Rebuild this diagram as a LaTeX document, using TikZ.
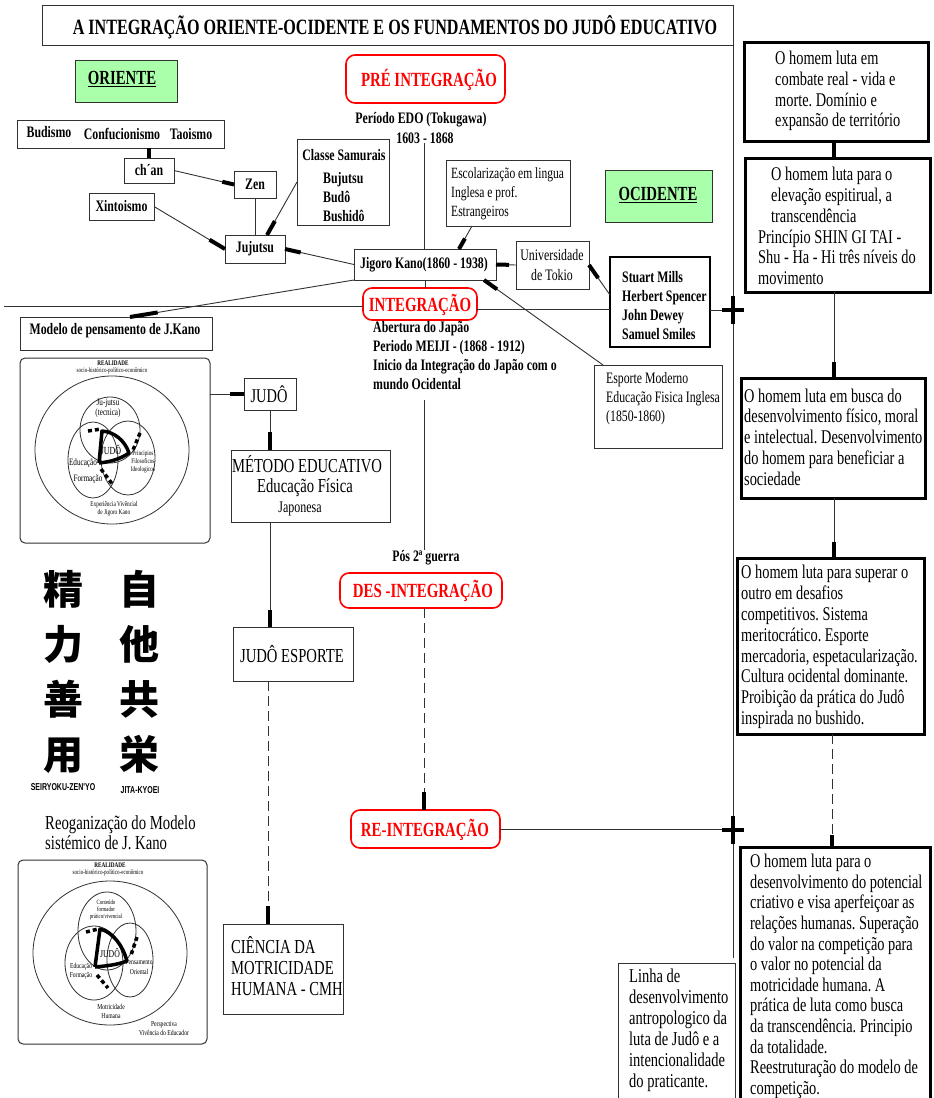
\documentclass[tikz,border=0pt]{standalone}
\usepackage{fontspec}
\setmainfont{Liberation Serif}[FakeStretch=0.74]
\newfontfamily\capsans{Liberation Sans}[FakeStretch=0.7]
\newfontfamily\cjk{Noto Sans CJK JP}
\usetikzlibrary{calc,fit}
\definecolor{ored}{RGB}{255,0,0}
\definecolor{ogreen}{RGB}{170,255,170}
\definecolor{ogray}{RGB}{50,50,50}
\newcommand\setfs[2]{\fontsize{#1}{#2}\selectfont}
\newcommand\conn[4][cline]{\draw[#1] (#2) -- (#3); \draw[tend] ($(#3)!#4!(#2)$) -- (#3);}
\frenchspacing
\tikzset{
  bx/.style={draw=ogray, line width=1pt, inner sep=0pt, outer sep=0pt},
  hbx/.style={draw=black, line width=3pt, inner sep=0pt, outer sep=0pt},
  redbx/.style={draw=ored, line width=1.6pt, rounded corners=9pt, inner sep=0pt, outer sep=0pt},
  grbx/.style={bx, fill=ogreen},
  imgbx/.style={draw=ogray, line width=1pt, rounded corners=5pt, inner sep=0pt, outer sep=0pt},
  lbl/.style={inner sep=0pt, font=\bfseries\setfs{16}{19}},
  txt/.style={inner sep=0pt, align=left},
  rtxt/.style={txt, font=\setfs{19.4}{20.8}},
  tn/.style={inner sep=0pt, align=center},
  redtxt/.style={inner sep=0pt, text=ored, font=\bfseries\setfs{20.1}{22}},
  cline/.style={draw=ogray, line width=0.9pt},
  tend/.style={draw=black, line width=4pt},
  dline/.style={cline, dash pattern=on 10pt off 5pt},
  thk/.style={draw=black, line width=3.5pt},
  vn/.style={draw=ogray, line width=0.8pt},
}
\begin{document}
\begin{tikzpicture}[x=1pt,y=-1pt]
\path[fill=white, use as bounding box] (0,0) rectangle (934,1098);

% ---------- title ----------
\node[bx, fit={(42,5) (733,45)}] (title) {};
\node[inner sep=0pt, font=\bfseries\setfs{21.8}{24}] (titletxt) at (395,27) {A INTEGRAÇÃO ORIENTE-OCIDENTE E OS FUNDAMENTOS DO JUDÔ EDUCATIVO};
\coordinate (vend) at (733,958);
\draw[cline] (title.north east) -- (vend);

% ---------- top left ----------
\node[grbx, fit={(75,60) (177,102)}] (oriente) {};
\node[inner sep=0pt, font=\bfseries\setfs{20}{22}] (orientetxt) at (122,79) {\underline{ORIENTE}};

\node[redbx, fit={(346,55) (505,103)}] (pre) {};
\node[redtxt] (pretxt) at (429,80) {PRÉ INTEGRAÇÃO};
\node[lbl] (edo1) at (421,120) {Período EDO (Tokugawa)};
\node[lbl] (edo2) at (425,138) {1603 - 1868};

\node[bx, fit={(17,120) (224,148)}] (budismo) {};
\node[lbl] (bud) at (49,132) {Budismo};
\node[lbl] (conf) at (122,134) {Confucionismo};
\node[lbl] (tao) at (191,134) {Taoismo};

\node[bx, fit={(124,158) (174,183)}, label={[lbl]center:ch´an}] (chan) {};
\node[bx, fit={(234,171) (276,198)}, label={[lbl]center:Zen}] (zen) {};
\node[bx, fit={(89,193) (154,220)}, label={[lbl]center:Xintoismo}] (xinto) {};
\node[bx, fit={(297,139) (389,225)}] (classe) {};
\node[lbl] (classet) at (344,155) {Classe Samurais};
\node[lbl, anchor=west, align=left] (bu) at (323,197) {Bujutsu\\Budô\\Bushidô};
\node[bx, fit={(225,235) (285,263)}, label={[lbl]center:Jujutsu}] (jujutsu) {};

\node[bx, fit={(354,249) (496,280)}] (jigoro) {};
\node[lbl] (jigorot) at (424,265) {Jigoro Kano(1860 - 1938)};

\node[bx, fit={(446,160) (570,226)}] (escol) {};
\node[txt, anchor=west, font=\setfs{15.6}{19}] (escolt) at (451,194) {Escolarização em lingua\\Inglesa e prof.\\Estrangeiros};

\node[grbx, fit={(605,170) (712,222)}] (ocid) {};
\node[inner sep=0pt, font=\bfseries\setfs{20}{22}] (ocidt) at (658,195) {\underline{OCIDENTE}};

\node[bx, fit={(516,241) (589,289)}] (univ) {};
\node[inner sep=0pt, align=center, font=\setfs{16}{20}] (univt) at (552,265) {Universidade\\de Tokio};

\node[bx, draw=black, line width=2pt, fit={(610,257) (710,347)}] (stuart) {};
\node[lbl, anchor=west, align=left] (stuartt) at (622,306) {Stuart Mills\\Herbert Spencer\\John Dewey\\Samuel Smiles};

\node[redbx, fit={(363,288) (477,320)}] (integ) {};
\node[redtxt] (integt) at (420,305) {INTEGRAÇÃO};
\node[lbl, anchor=west, align=left] (abert) at (373,356) {Abertura do Japão\\Periodo MEIJI - (1868 - 1912)\\Inicio da Integração do Japão com o\\mundo Ocidental};

\node[bx, fit={(20,317) (212,350)}] (modelo) {};
\node[lbl] (modelot) at (115,331) {Modelo de pensamento de J.Kano};

\node[bx, fit={(594,365) (722,448)}] (esporte) {};
\node[txt, anchor=west, font=\setfs{15.9}{19}] (esportet) at (606,399) {Esporte Moderno\\Educação Fisica Inglesa\\(1850-1860)};

% ---------- left column ----------
\node[imgbx, fit={(20,358) (210,543)}] (img1) {};
\node[bx, fit={(244,378) (296,410)}] (judo) {};
\node[inner sep=0pt, font=\setfs{19.5}{22}] (judot) at (269,394) {JUDÔ};
\node[bx, fit={(231,450) (390,522)}] (metodo) {};
\node[inner sep=0pt, font=\setfs{19.8}{22}] (met1) at (307,464) {MÉTODO EDUCATIVO};
\node[inner sep=0pt, font=\setfs{19.8}{22}] (met2) at (305,488) {Educação Física};
\node[inner sep=0pt, font=\setfs{16.2}{18}] (met3) at (300,509) {Japonesa};
\node[bx, fit={(233,627) (353,681)}] (je) {};
\node[inner sep=0pt, font=\setfs{19.8}{22}] (jet) at (292,654) {JUDÔ ESPORTE};
\node[bx, fit={(223,924) (343,1014)}] (ciencia) {};
\node[txt, anchor=west, font=\setfs{19.8}{21}] (cient) at (231,966) {CIÊNCIA DA\\MOTRICIDADE\\HUMANA - CMH};

\node[tn, font=\cjk\bfseries\setfs{40}{55}] (col1) at (63,672) {精\\力\\善\\用};
\node[tn, font=\cjk\bfseries\setfs{40}{55}] (col2) at (139,672) {自\\他\\共\\栄};
\node[inner sep=0pt, font=\capsans\bfseries\setfs{10}{12}] (sz) at (63,787) {SEIRYOKU-ZEN'YO};
\node[inner sep=0pt, font=\capsans\bfseries\setfs{10}{12}] (jk) at (140,790) {JITA-KYOEI};
\node[txt, anchor=west, font=\setfs{19.9}{20}] (reog) at (45,833) {Reoganização do Modelo\\sistémico de J. Kano};

\node[imgbx, fit={(18,860) (207,1044)}] (img2) {};

% ---------- centre ----------
\node[lbl] (pos) at (426,558) {Pós 2ª guerra};
\node[redbx, fit={(340,573) (502,608)}] (des) {};
\node[redtxt] (dest) at (423,591) {DES -INTEGRAÇÃO};
\node[redbx, fit={(351,810) (500,848)}] (re) {};
\node[redtxt] (ret) at (425,830) {RE-INTEGRAÇÃO};

% ---------- right column ----------
\node[hbx, fit={(744,42) (928,141)}] (r1) {};
\node[rtxt, anchor=west] (r1t) at (775,91) {O homem luta em\\combate real - vida e\\morte. Domínio e\\expansão de território};
\node[hbx, fit={(745,158) (930,292)}] (r2) {};
\node[rtxt, anchor=west] (r2t) at (758,226) {\hspace*{13pt}O homem luta para o\\\hspace*{13pt}elevação espitirual, a\\\hspace*{13pt}transcendência\\Princípio SHIN GI TAI -\\Shu - Ha - Hi três níveis do\\movimento};
\node[hbx, fit={(741,378) (925,498)}] (r3) {};
\node[rtxt, anchor=west] (r3t) at (744,437) {O homem luta em busca do\\desenvolvimento físico, moral\\e intelectual. Desenvolvimento\\do homem para beneficiar a\\sociedade};
\node[hbx, fit={(737,558) (924,734)}] (r4) {};
\node[rtxt, anchor=west] (r4t) at (741,647) {O homem luta para superar o\\outro em desafios\\competitivos. Sistema\\meritocrático. Esporte\\mercadoria, espetacularização.\\Cultura ocidental dominante.\\Proibição da prática do Judô\\inspirada no bushido.};
\node[hbx, fit={(740,847) (930,1110)}] (r5) {};
\node[rtxt, anchor=north west, font=\setfs{19.4}{20.6}] (r5t) at (750,854) {O homem luta para o\\desenvolvimento do potencial\\criativo e visa aperfeiçoar as\\relações humanas. Superação\\do valor na competição para\\o valor no potencial da\\motricidade humana. A\\prática de luta como busca\\da transcendência. Principio\\da totalidade.\\Reestruturação do modelo de\\competição.};

\node[bx, fit={(618,963) (735,1110)}] (linha) {};
\node[txt, anchor=west, font=\setfs{19.6}{21}] (linhat) at (629,1030) {Linha de\\desenvolvimento\\antropologico da\\luta de Judô e a\\intencionalidade\\do praticante.};

% ---------- connectors ----------
\coordinate (cbud) at (budismo.south -| chan.north);
\draw[tend] (cbud) -- (chan.north);
\conn{chan.east}{zen.west}{12pt}
\conn{xinto.east}{jujutsu.west}{18pt}
\coordinate (cjjn) at ($(jujutsu.north)+(12,0)$);
\conn{classe.west}{cjjn}{16pt}
\draw[cline] (zen.south) -- (zen.south |- jujutsu.north);
\conn{jigoro.west}{jujutsu.east}{16pt}
\coordinate (cedo) at (424,143);
\draw[cline] (cedo) -- (cedo |- jigoro.north);
\coordinate (cesc) at ($(escol.south west)+(26,0)$);
\coordinate (cjgn) at ($(jigoro.north west)+(105,0)$);
\conn{cesc}{cjgn}{12pt}
\conn{univ.west}{jigoro.east}{13pt}
\coordinate (cstw) at ($(stuart.north west)+(0,38)$);
\conn{cstw}{univ.east}{16pt}
\coordinate (cjgs) at ($(jigoro.south east)+(-12,0)$);
\coordinate (cesp) at ($(esporte.north west)+(9,0)$);
\conn{cesp}{cjgs}{16pt}
\coordinate (cmod) at ($(modelo.north west)+(110,0)$);
\conn{jigoro.south west}{cmod}{28pt}

\coordinate (hl) at (4,306);
\draw[cline] (hl) -- (hl -| integ.west);
\coordinate (hr) at (477,309);
\draw[cline] (hr) -- (hr -| stuart.west);
\coordinate (plusa) at (733,310);
\draw[cline] (stuart.east |- plusa) -- (plusa);
\draw[cline] (jigoro.south) -- (jigoro.south |- integ.north);
\coordinate (vt) at (424,400);
\draw[cline] (vt) -- (vt |- pos.north);
\coordinate (cdes) at (des.south -| vt);
\coordinate (cre) at (re.north -| vt);
\conn[dline]{cdes}{cre}{18pt}
\coordinate (plusb) at (733,830);
\draw[cline] (re.east) -- (re.east -| plusb);

\coordinate (ci1) at (img1.east |- judo.west);
\conn{ci1}{judo.west}{14pt}
\coordinate (cmn) at (judo.south |- metodo.north);
\conn{judo.south}{cmn}{18pt}
\coordinate (cms) at (metodo.south -| judo.south);
\coordinate (cjen) at (je.north -| judo.south);
\conn{cms}{cjen}{17pt}
\coordinate (cjes) at ($(je.south west)+(35,0)$);
\coordinate (ccn) at (cjes |- ciencia.north);
\conn[dline]{cjes}{ccn}{18pt}

\coordinate (rx) at (834,0);
\draw[tend] (r1.south -| rx) -- (r2.north -| rx);
\coordinate (c23a) at (r2.south -| rx);
\coordinate (c23b) at (r3.north -| rx);
\conn{c23a}{c23b}{16pt}
\coordinate (c34a) at (r3.south -| rx);
\coordinate (c34b) at (r4.north -| rx);
\conn{c34a}{c34b}{16pt}
\coordinate (rx2) at (832,0);
\coordinate (c45a) at (r4.south -| rx2);
\coordinate (c45b) at (r5.north -| rx2);
\conn[dline]{c45a}{c45b}{12pt}

\draw[tend] ($(plusa)+(-11,0)$) -- ($(plusa)+(11,0)$) ($(plusa)+(0,-14)$) -- ($(plusa)+(0,14)$);
\draw[tend] ($(plusb)+(-11,0)$) -- ($(plusb)+(11,0)$) ($(plusb)+(0,-14)$) -- ($(plusb)+(0,14)$);

% ---------- venn 1 ----------
\node[tn, font=\bfseries\setfs{7}{7}] (a1) at (113,363) {REALIDADE};
\node[tn, font=\setfs{6.8}{7}] (a2) at (112,371) {socio-histórico-político-econômico};
\draw[vn] (112,450) ellipse [x radius=77pt, y radius=74pt];
\draw[vn] (110,430) ellipse [x radius=30pt, y radius=33pt];
\draw[vn] (93,460) ellipse [x radius=25pt, y radius=38pt];
\draw[vn] (128,458) ellipse [x radius=27pt, y radius=37pt];
\node[tn, font=\setfs{9.7}{10}] (a3) at (108,408) {Ju-jutsu\\(tecnica)};
\node[tn, font=\setfs{10.8}{11}] (a4) at (111,450) {JUDÔ};
\node[tn, font=\setfs{7}{8}] (a5) at (143,462) {Principios\\Filosoficos\\Ideologicos};
\node[tn, font=\setfs{9.7}{10}] (a6) at (83,463) {Educação};
\node[tn, font=\setfs{9.7}{10}] (a7) at (88,479) {Formação};
\node[tn, font=\setfs{7.2}{8}] (a8) at (114,509) {Experiência Vivêncial\\de Jigoro Kano};
\draw[thk, line join=round] (99,463) -- (102,431) .. controls (115,432) and (125,441) .. (129,453) .. controls (119,460) and (108,462) .. (99,463);
\draw[thk, dash pattern=on 4pt off 3pt] (88,431) -- (101,429);
\draw[thk, dash pattern=on 4pt off 3pt] (140,433) -- (133,450);
\draw[thk, dash pattern=on 4pt off 3pt] (101,469) -- (113,485);

% ---------- venn 2 ----------
\node[tn, font=\bfseries\setfs{7}{7}] (b1) at (110,865) {REALIDADE};
\node[tn, font=\setfs{6.8}{7}] (b2) at (108,873) {socio-histórico-político-econômico};
\draw[vn] (110,953) ellipse [x radius=77pt, y radius=72pt];
\draw[vn] (107,931) ellipse [x radius=29pt, y radius=39pt];
\draw[vn] (94,963) ellipse [x radius=29pt, y radius=37pt];
\draw[vn] (130,960) ellipse [x radius=23pt, y radius=37pt];
\node[tn, font=\setfs{6.5}{7}] (b3) at (106,910) {Conteúdo\\formador\\prático/vivencial};
\node[tn, font=\setfs{10.5}{11}] (b4) at (110,953) {JUDÔ};
\node[tn, font=\setfs{7.6}{10}] (b5) at (139,967) {Pensamento\\Oriental};
\node[tn, font=\setfs{7.6}{9.5}] (b6) at (81,971) {Educação\\Formação};
\node[tn, font=\setfs{7.6}{9}] (b7) at (111,1011) {Motricidade\\Humana};
\node[tn, font=\setfs{7.6}{9}] (b8) at (164,1029) {Perspectiva\\Vivência do Educador};
\draw[thk, line join=round] (95,967) -- (100,929) .. controls (113,932) and (123,946) .. (127,961) .. controls (117,965) and (105,966) .. (95,967);
\draw[thk, dash pattern=on 4pt off 3pt] (86,932) -- (98,929);
\draw[thk, dash pattern=on 4pt off 3pt] (137,937) -- (131,955);
\draw[thk, dash pattern=on 4pt off 3pt] (97,975) -- (108,988);
\end{tikzpicture}
\end{document}
